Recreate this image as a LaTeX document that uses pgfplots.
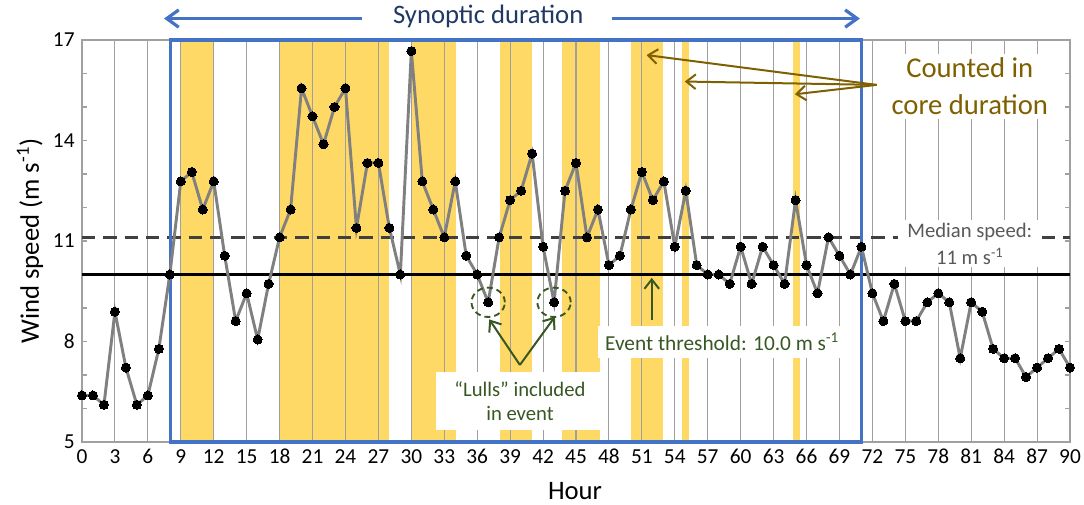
\documentclass[border=0pt]{standalone}
\usepackage{pgfplots}
\pgfplotsset{compat=1.18}
\usepackage{fontspec}
\setmainfont{Carlito}
\usetikzlibrary{arrows.meta}
\definecolor{bandy}{HTML}{FFD966}
\definecolor{sblue}{HTML}{4472C4}
\definecolor{navy}{HTML}{203864}
\definecolor{olive}{HTML}{7F6000}
\definecolor{dgreen}{HTML}{385723}
\definecolor{tgray}{HTML}{595959}
\definecolor{gridg}{HTML}{A0A0A0}
\begin{document}
\begin{tikzpicture}
\begin{axis}[
  at={(0,0)}, anchor=south west,
  set layers,
  width=741pt, height=301.5pt, scale only axis,
  xmin=0, xmax=90, ymin=5, ymax=17,
  clip=false,
  xtick={0,3,...,90},
  ytick={5,8,11,14,17},
  minor ytick={6,7,9,10,12,13,15,16},
  xmajorgrids,
  major grid style={gridg, line width=0.8pt},
  axis line style={gridg, line width=0.8pt},
  tick align=inside,
  major tick length=4pt, minor tick length=4pt,
  ytick style={gridg, line width=0.8pt},
  xtick style={draw=none},
  /pgf/number format/assume math mode=true,
  tick label style={font=\fontsize{16}{18}\selectfont},
  xticklabel style={yshift=-2pt},
  yticklabel style={xshift=-2pt},
  xlabel={Hour},
  ylabel={Wind speed (m s\textsuperscript{-1})},
  label style={font=\fontsize{20}{24}\selectfont},
  xlabel style={at={(axis description cs:0.499,-0.122)}, anchor=center},
  ylabel style={at={(axis description cs:-0.0526,0.5)}, anchor=center},
]
% yellow bands (core duration)
\addplot[draw=none, fill=bandy, on layer=axis background] coordinates {(9,5)(9,17)(12,17)(12,5)} -- cycle;
\addplot[draw=none, fill=bandy, on layer=axis background] coordinates {(17.9,5)(17.9,17)(28,17)(28,5)} -- cycle;
\addplot[draw=none, fill=bandy, on layer=axis background] coordinates {(30,5)(30,17)(34.05,17)(34.05,5)} -- cycle;
\addplot[draw=none, fill=bandy, on layer=axis background] coordinates {(38.1,5)(38.1,17)(41,17)(41,5)} -- cycle;
\addplot[draw=none, fill=bandy, on layer=axis background] coordinates {(43.75,5)(43.75,17)(47.2,17)(47.2,5)} -- cycle;
\addplot[draw=none, fill=bandy, on layer=axis background] coordinates {(50,5)(50,17)(52.95,17)(52.95,5)} -- cycle;
\addplot[draw=none, fill=bandy, on layer=axis background] coordinates {(54.65,5)(54.65,17)(55.3,17)(55.3,5)} -- cycle;
\addplot[draw=none, fill=bandy, on layer=axis background] coordinates {(64.8,5)(64.8,17)(65.45,17)(65.45,5)} -- cycle;

% median (dashed) and threshold lines
\addplot[draw=black!75, line width=2pt, dash pattern=on 10pt off 6pt] coordinates {(0,11.1)(90,11.1)};
\addplot[draw=black, line width=2.3pt] coordinates {(0,10)(90,10)};

% white label boxes
\node[fill=white, text=olive, align=center, inner xsep=7pt, inner ysep=3pt,
      font=\fontsize{21.5}{28}\selectfont] at (axis cs:80.87,15.62) {Counted in\\core duration};
\node[fill=white, text=tgray, align=center, inner xsep=7pt, inner ysep=2pt,
      font=\fontsize{15.5}{20}\selectfont] at (axis cs:80.87,10.92) {Median speed:\\11 m s\textsuperscript{-1}};
\node[fill=white, text=dgreen, inner xsep=5pt, inner ysep=5pt,
      font=\fontsize{16}{19}\selectfont] at (axis cs:58.3,7.99) {Event threshold: 10.0 m s\textsuperscript{-1}};
\node[fill=white, text=dgreen, align=center, inner xsep=14pt, inner ysep=7pt,
      font=\fontsize{15.5}{18.5}\selectfont] at (axis cs:39.9,6.22) {“Lulls” included\\in event};

% synoptic duration box
\draw[sblue, line width=2.4pt] (axis cs:8.08,5) rectangle (axis cs:71,17);

% wind speed series
\addplot[draw=gray, line width=2.2pt, mark=*, mark size=3.4pt,
  mark options={draw=black, fill=black, line width=0pt}] coordinates {
(0,6.39)(1,6.39)(2,6.11)(3,8.89)(4,7.22)(5,6.11)(6,6.39)(7,7.78)(8,10.00)(9,12.78)
(10,13.06)(11,11.94)(12,12.78)(13,10.56)(14,8.61)(15,9.44)(16,8.06)(17,9.72)(18,11.11)(19,11.94)
(20,15.56)(21,14.72)(22,13.89)(23,15.00)(24,15.56)(25,11.39)(26,13.33)(27,13.33)(28,11.39)(29,10.00)
(30,16.67)(31,12.78)(32,11.94)(33,11.11)(34,12.78)(35,10.56)(36,10.00)(37,9.17)(38,11.11)(39,12.22)
(40,12.50)(41,13.61)(42,10.83)(43,9.17)(44,12.50)(45,13.33)(46,11.11)(47,11.94)(48,10.28)(49,10.56)
(50,11.94)(51,13.06)(52,12.22)(53,12.78)(54,10.83)(55,12.50)(56,10.28)(57,10.00)(58,10.00)(59,9.72)
(60,10.83)(61,9.72)(62,10.83)(63,10.28)(64,9.72)(65,12.22)(66,10.28)(67,9.44)(68,11.11)(69,10.56)
(70,10.00)(71,10.83)(72,9.44)(73,8.61)(74,9.72)(75,8.61)(76,8.61)(77,9.17)(78,9.44)(79,9.17)
(80,7.50)(81,9.17)(82,8.89)(83,7.78)(84,7.50)(85,7.50)(86,6.94)(87,7.22)(88,7.50)(89,7.78)
(90,7.22)};

% synoptic duration arrows and label
\draw[sblue, line width=2.4pt, -{Straight Barb[length=9pt,width=13pt]}] (axis cs:25.47,17.64) -- (axis cs:7.47,17.64);
\draw[sblue, line width=2.4pt, -{Straight Barb[length=9pt,width=13pt]}] (axis cs:48.24,17.64) -- (axis cs:70.86,17.64);
\node[text=navy, anchor=base, font=\fontsize{20}{24}\selectfont] at (axis cs:37.0,17.50) {Synoptic duration};

% core duration arrows
\draw[olive, line width=1.5pt, -{Straight Barb[length=7pt,width=11pt]}] (axis cs:72.38,15.66) -- (axis cs:51.43,16.55);
\draw[olive, line width=1.5pt, -{Straight Barb[length=7pt,width=11pt]}] (axis cs:72.38,15.66) -- (axis cs:54.91,15.76);
\draw[olive, line width=1.5pt, -{Straight Barb[length=7pt,width=11pt]}] (axis cs:72.38,15.66) -- (axis cs:64.94,15.38);

% event threshold arrow
\draw[dgreen, line width=1.5pt, -{Straight Barb[length=7pt,width=11pt]}] (axis cs:51.9,8.64) -- (axis cs:51.9,9.9);

% lulls arrows and circles
\draw[dgreen, line width=1.5pt, -{Straight Barb[length=7pt,width=11pt]}] (axis cs:39.89,7.30) -- (axis cs:37.1,8.66);
\draw[dgreen, line width=1.5pt, -{Straight Barb[length=7pt,width=11pt]}] (axis cs:39.89,7.30) -- (axis cs:43.08,8.74);
\draw[dgreen, line width=1.4pt, dash pattern=on 4.5pt off 3pt] (axis cs:37,9.17) ellipse[x radius=12.5pt, y radius=11pt];
\draw[dgreen, line width=1.4pt, dash pattern=on 4.5pt off 3pt] (axis cs:43,9.17) ellipse[x radius=12.5pt, y radius=11pt];
\end{axis}
\pgfresetboundingbox
\useasboundingbox (-61.5pt,-46.5pt) rectangle (751.5pt,331.5pt);
\end{tikzpicture}
\end{document}
